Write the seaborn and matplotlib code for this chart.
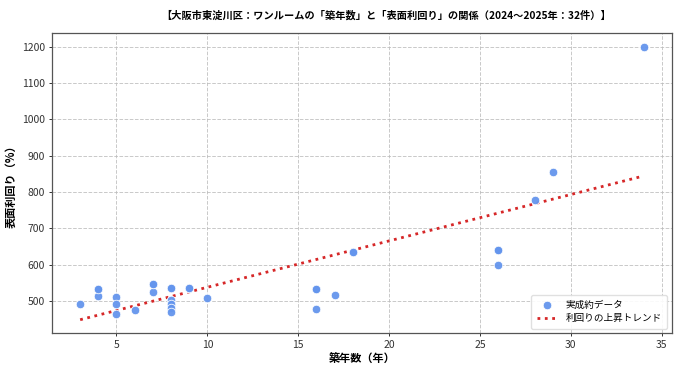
import numpy as np
import pandas as pd
import matplotlib
matplotlib.use("Agg")
import matplotlib.pyplot as plt
import seaborn as sns

# Data (some points overlap exactly)
ages = [3, 4, 4, 5, 5, 5, 6, 7, 7, 8, 8, 8, 8, 8, 9, 10, 16, 16, 17, 18,
        26, 26, 28, 29, 34,
        7, 8, 9, 4, 16, 18, 26]
yields = [491, 532, 515, 512, 492, 465, 476, 548, 525, 535, 502, 491, 481, 470, 535, 507,
          532, 477, 516, 635, 640, 599, 779, 854, 1200,
          548, 535, 535, 532, 532, 635, 640]

title = "【大阪市東淀川区：ワンルームの「築年数」と「表面利回り」の関係（2024～2025年：32件）】"
xlabel = "築年数（年）"
ylabel = "表面利回り（%）"
scatter_label = "実成約データ"
trend_label = "利回りの上昇トレンド"

fam = ["Noto Sans CJK JP", "DejaVu Sans"]
plt.rcParams["font.family"] = fam
plt.rcParams["axes.unicode_minus"] = False

df = pd.DataFrame({"age": ages, "yield": yields})
coef = np.polyfit(df["age"], df["yield"], 1)
tx = np.array([df["age"].min(), df["age"].max()])
trend = pd.DataFrame({"age": tx, "yield": np.polyval(coef, tx)})

fig = plt.figure(figsize=(6.82, 3.75), dpi=100)
ax = fig.add_axes([0.0762, 0.111, 0.985 - 0.0762, 0.912 - 0.111])

sns.scatterplot(data=df, x="age", y="yield", ax=ax, s=38, color="#6495ED",
                edgecolor="white", linewidth=0.6, alpha=0.95, label=scatter_label, zorder=3)
sns.lineplot(data=trend, x="age", y="yield", ax=ax, color="#d62728",
             linestyle=":", linewidth=2.0, label=trend_label, zorder=2)

ax.grid(True, linestyle="--", color="#bbbbbb", linewidth=0.7, alpha=0.8)
ax.set_axisbelow(True)
ax.set_title(title, fontsize=7.35, fontweight="bold", pad=10, x=0.539)
ax.set_xlabel(xlabel, fontsize=8, fontweight="bold", labelpad=2)
ax.set_ylabel(ylabel, fontsize=8, fontweight="bold", labelpad=3)
ax.tick_params(labelsize=7.5, length=2.5, width=0.7, pad=2.5, colors="#333333")
for sp in ax.spines.values():
    sp.set_color("#555555")
    sp.set_linewidth(0.9)

leg = ax.legend(loc="lower right", fontsize=6.9, frameon=True, framealpha=0.9,
                borderpad=0.55, handlelength=2.2)
leg.get_frame().set_edgecolor("#dddddd")

fig.savefig("out.png", dpi=100)
